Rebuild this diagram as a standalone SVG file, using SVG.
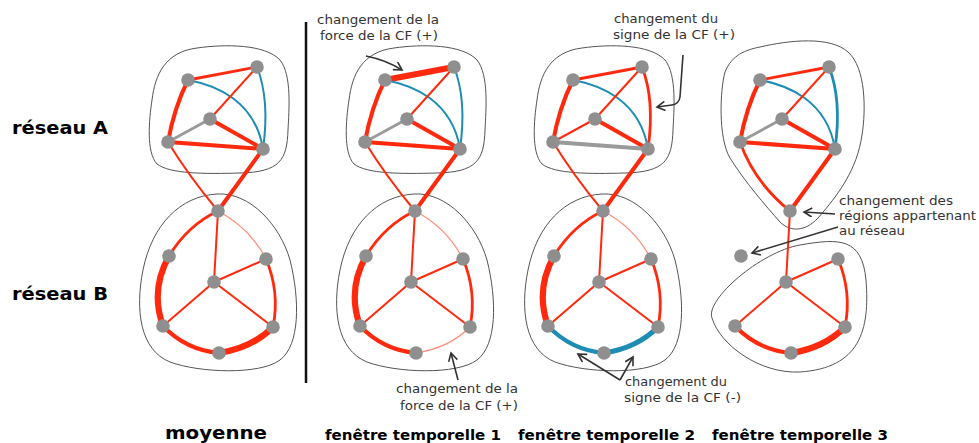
<svg xmlns="http://www.w3.org/2000/svg" width="979" height="443" viewBox="0 0 979 443">
<style>
.e{fill:none;stroke-linecap:round}
.r{stroke:#ff2a0d}
.lr{stroke:#ff8f7c}
.b{stroke:#1d8db3}
.g{stroke:#9a9a9a}
.w1{stroke-width:1.3}
.w2{stroke-width:2}
.w3{stroke-width:2.8}
.w4{stroke-width:4}
.w5{stroke-width:5.2}
.w6{stroke-width:6.2}
.n{fill:#8f8f8f}
.blob{fill:none;stroke:#555;stroke-width:1}
.ann{font-family:"DejaVu Sans",Verdana,sans-serif;font-size:13px;fill:#333}
.lbl{font-family:"DejaVu Sans",Verdana,sans-serif;font-weight:bold;fill:#000}
.arr{fill:none;stroke:#333;stroke-width:1.6;marker-end:url(#ah)}
</style>
<defs>
<marker id="ah" markerUnits="userSpaceOnUse" markerWidth="12" markerHeight="12" refX="9" refY="5" orient="auto">
<path d="M1,0.5 L9,5 L1,9.5" fill="none" stroke="#333" stroke-width="1.6"/>
</marker>
<path id="blobA" d="M197,48 C225,44 265,44 280,60 C292,75 289,110 288,130 C287,160 280,172 240,173 C205,174 170,174 157,164 C146,152 149,120 152,100 C155,75 165,52 197,48 Z"/>
<path id="blobB" d="M217,194 C250,192 280,225 290,260 C300,300 300,345 280,360 C260,375 200,373 170,362 C140,350 135,310 143,270 C152,225 180,196 217,194 Z"/>
</defs>
<rect width="979" height="443" fill="#fff"/>

<g id="outlines">
<use href="#blobA" class="blob"/>
<use href="#blobB" class="blob"/>
<use href="#blobA" class="blob" transform="translate(197,0)"/>
<use href="#blobB" class="blob" transform="translate(197,0)"/>
<use href="#blobA" class="blob" transform="translate(385,0)"/>
<use href="#blobB" class="blob" transform="translate(385,0)"/>
<path class="blob" d="M760,47 C790,40 830,36 848,52 C866,68 866,110 862,135 C857,170 838,195 818,218 C805,232 790,232 780,222 C765,205 745,182 730,158 C718,138 720,90 725,72 C732,55 745,50 760,47 Z"/>
<path class="blob" d="M712,318 C705,300 760,252 800,245 C840,238 862,238 866,280 C870,330 860,368 800,372 C760,374 720,345 712,318 Z"/>
</g>

<line x1="306" y1="22" x2="306" y2="383" stroke="#111" stroke-width="2.5"/>

<g id="connectors">
<g id="edges-moyenne">
<path class="e r w3" d="M188,80 L257,67"/>
<path class="e r w4" d="M188,80 Q174,108 168,142"/>
<path class="e b w2" d="M188,80 C215,85 255,100 263,149"/>
<path class="e b w2" d="M257,67 Q270,100 263,149"/>
<path class="e r w2" d="M257,67 L210,119"/>
<path class="e g w3" d="M210,119 L168,142"/>
<path class="e r w4" d="M210,119 L263,149"/>
<path class="e r w4" d="M168,142 L263,149"/>
<path class="e r w2" d="M168,142 Q188,175 218,211"/>
<path class="e r w4" d="M263,149 L218,211"/>
<path class="e r w3" d="M218,211 Q188,225 169,256"/>
<path class="e lr w1" d="M218,211 Q250,228 266,259"/>
<path class="e r w2" d="M218,211 L214,282"/>
<path class="e r w2" d="M214,282 L266,259"/>
<path class="e r w2" d="M214,282 L163,326"/>
<path class="e r w2" d="M214,282 L273,327"/>
<path class="e r w6" d="M169,256 Q150,290 163,326"/>
<path class="e r w3" d="M266,259 Q280,292 273,327"/>
<path class="e r w4" d="M163,326 Q186,350 219,353"/>
<path class="e r w6" d="M219,353 Q252,348 273,327"/>
</g>
<g id="edges-f1" transform="translate(197,0)">
<path class="e r w6" d="M188,80 L257,67"/>
<path class="e r w4" d="M188,80 Q174,108 168,142"/>
<path class="e b w2" d="M188,80 C215,85 255,100 263,149"/>
<path class="e b w2" d="M257,67 Q270,100 263,149"/>
<path class="e r w2" d="M257,67 L210,119"/>
<path class="e g w3" d="M210,119 L168,142"/>
<path class="e r w4" d="M210,119 L263,149"/>
<path class="e r w4" d="M168,142 L263,149"/>
<path class="e r w2" d="M168,142 Q188,175 218,211"/>
<path class="e r w4" d="M263,149 L218,211"/>
<path class="e r w3" d="M218,211 Q188,225 169,256"/>
<path class="e lr w1" d="M218,211 Q250,228 266,259"/>
<path class="e r w2" d="M218,211 L214,282"/>
<path class="e r w2" d="M214,282 L266,259"/>
<path class="e r w2" d="M214,282 L163,326"/>
<path class="e r w2" d="M214,282 L273,327"/>
<path class="e r w6" d="M169,256 Q150,290 163,326"/>
<path class="e r w3" d="M266,259 Q280,292 273,327"/>
<path class="e r w4" d="M163,326 Q186,350 219,353"/>
<path class="e lr w1" d="M219,353 Q252,348 273,327"/>
</g>
<g id="edges-f2" transform="translate(385,0)">
<path class="e r w3" d="M188,80 L257,67"/>
<path class="e r w4" d="M188,80 Q174,108 168,142"/>
<path class="e b w2" d="M188,80 C215,85 255,100 263,149"/>
<path class="e r w3" d="M257,67 Q270,100 263,149"/>
<path class="e r w2" d="M257,67 L210,119"/>
<path class="e r w2" d="M210,119 L168,142"/>
<path class="e r w4" d="M210,119 L263,149"/>
<path class="e g w4" d="M168,142 L263,149"/>
<path class="e r w2" d="M168,142 Q188,175 218,211"/>
<path class="e r w4" d="M263,149 L218,211"/>
<path class="e r w3" d="M218,211 Q188,225 169,256"/>
<path class="e lr w1" d="M218,211 Q250,228 266,259"/>
<path class="e r w2" d="M218,211 L214,282"/>
<path class="e r w2" d="M214,282 L266,259"/>
<path class="e r w2" d="M214,282 L163,326"/>
<path class="e r w2" d="M214,282 L273,327"/>
<path class="e r w6" d="M169,256 Q150,290 163,326"/>
<path class="e r w3" d="M266,259 Q280,292 273,327"/>
<path class="e b w4" d="M163,326 Q186,350 219,353"/>
<path class="e b w5" d="M219,353 Q252,348 273,327"/>
</g>
<g id="edges-f3" transform="translate(572,0)">
<path class="e r w3" d="M188,80 L257,67"/>
<path class="e r w4" d="M188,80 Q174,108 168,142"/>
<path class="e b w2" d="M188,80 C215,85 255,100 263,149"/>
<path class="e b w3" d="M257,67 Q270,100 263,149"/>
<path class="e r w2" d="M257,67 L210,119"/>
<path class="e g w3" d="M210,119 L168,142"/>
<path class="e r w4" d="M210,119 L263,149"/>
<path class="e r w4" d="M168,142 L263,149"/>
<path class="e r w3" d="M168,142 Q182,182 218,211"/>
<path class="e r w4" d="M263,149 L218,211"/>
<path class="e r w2" d="M218,211 L214,282"/>
<path class="e r w2" d="M214,282 L266,259"/>
<path class="e r w2" d="M214,282 L163,326"/>
<path class="e r w2" d="M214,282 L273,327"/>
<path class="e r w3" d="M266,259 Q280,292 273,327"/>
<path class="e r w4" d="M163,326 Q186,350 219,353"/>
<path class="e r w6" d="M219,353 Q252,348 273,327"/>
</g>
<g id="annotation-arrows">
<path class="arr" d="M366,56 Q386,60 402,70"/>
<path class="arr" d="M683,55 L680,97 Q679,104 672,105 L657,107"/>
<path class="arr" d="M458,380 L451,353"/>
<path class="arr" d="M620,380 L578,354"/>
<path class="arr" d="M620,380 L633,357"/>
<path class="arr" d="M835,214 L804,212"/>
<path class="arr" d="M838,227 L752,253"/>
</g>
</g>

<g id="nodes-moyenne" class="n">
<g id="m-a1"><circle cx="188" cy="80" r="6.8"/></g>
<g id="m-a2"><circle cx="257" cy="67" r="6.8"/></g>
<g id="m-a3"><circle cx="210" cy="119" r="6.8"/></g>
<g id="m-a4"><circle cx="168" cy="142" r="6.8"/></g>
<g id="m-a5"><circle cx="263" cy="149" r="6.8"/></g>
<g id="m-s"><circle cx="218" cy="211" r="6.8"/></g>
<g id="m-b1"><circle cx="169" cy="256" r="6.8"/></g>
<g id="m-b2"><circle cx="266" cy="259" r="6.8"/></g>
<g id="m-b3"><circle cx="214" cy="282" r="6.8"/></g>
<g id="m-b4"><circle cx="163" cy="326" r="6.8"/></g>
<g id="m-b5"><circle cx="273" cy="327" r="6.8"/></g>
<g id="m-b6"><circle cx="219" cy="353" r="6.8"/></g>
</g>
<g id="nodes-f1" class="n" transform="translate(197,0)">
<g id="f1-a1"><circle cx="188" cy="80" r="6.8"/></g>
<g id="f1-a2"><circle cx="257" cy="67" r="6.8"/></g>
<g id="f1-a3"><circle cx="210" cy="119" r="6.8"/></g>
<g id="f1-a4"><circle cx="168" cy="142" r="6.8"/></g>
<g id="f1-a5"><circle cx="263" cy="149" r="6.8"/></g>
<g id="f1-s"><circle cx="218" cy="211" r="6.8"/></g>
<g id="f1-b1"><circle cx="169" cy="256" r="6.8"/></g>
<g id="f1-b2"><circle cx="266" cy="259" r="6.8"/></g>
<g id="f1-b3"><circle cx="214" cy="282" r="6.8"/></g>
<g id="f1-b4"><circle cx="163" cy="326" r="6.8"/></g>
<g id="f1-b5"><circle cx="273" cy="327" r="6.8"/></g>
<g id="f1-b6"><circle cx="219" cy="353" r="6.8"/></g>
</g>
<g id="nodes-f2" class="n" transform="translate(385,0)">
<g id="f2-a1"><circle cx="188" cy="80" r="6.8"/></g>
<g id="f2-a2"><circle cx="257" cy="67" r="6.8"/></g>
<g id="f2-a3"><circle cx="210" cy="119" r="6.8"/></g>
<g id="f2-a4"><circle cx="168" cy="142" r="6.8"/></g>
<g id="f2-a5"><circle cx="263" cy="149" r="6.8"/></g>
<g id="f2-s"><circle cx="218" cy="211" r="6.8"/></g>
<g id="f2-b1"><circle cx="169" cy="256" r="6.8"/></g>
<g id="f2-b2"><circle cx="266" cy="259" r="6.8"/></g>
<g id="f2-b3"><circle cx="214" cy="282" r="6.8"/></g>
<g id="f2-b4"><circle cx="163" cy="326" r="6.8"/></g>
<g id="f2-b5"><circle cx="273" cy="327" r="6.8"/></g>
<g id="f2-b6"><circle cx="219" cy="353" r="6.8"/></g>
</g>
<g id="nodes-f3" class="n" transform="translate(572,0)">
<g id="f3-a1"><circle cx="188" cy="80" r="6.8"/></g>
<g id="f3-a2"><circle cx="257" cy="67" r="6.8"/></g>
<g id="f3-a3"><circle cx="210" cy="119" r="6.8"/></g>
<g id="f3-a4"><circle cx="168" cy="142" r="6.8"/></g>
<g id="f3-a5"><circle cx="263" cy="149" r="6.8"/></g>
<g id="f3-s"><circle cx="218" cy="211" r="6.8"/></g>
<g id="f3-b1"><circle cx="169" cy="256" r="6.8"/></g>
<g id="f3-b2"><circle cx="266" cy="259" r="6.8"/></g>
<g id="f3-b3"><circle cx="214" cy="282" r="6.8"/></g>
<g id="f3-b4"><circle cx="163" cy="326" r="6.8"/></g>
<g id="f3-b5"><circle cx="273" cy="327" r="6.8"/></g>
<g id="f3-b6"><circle cx="219" cy="353" r="6.8"/></g>
</g>

<g id="labels">
<text class="lbl" x="12" y="134" font-size="17" textLength="96" lengthAdjust="spacingAndGlyphs">réseau A</text>
<text class="lbl" x="12" y="300" font-size="17" textLength="96" lengthAdjust="spacingAndGlyphs">réseau B</text>
<text class="lbl" x="165" y="439" font-size="17" textLength="102" lengthAdjust="spacingAndGlyphs">moyenne</text>
<text class="lbl" x="325" y="440" font-size="13.5" textLength="176" lengthAdjust="spacingAndGlyphs">fenêtre temporelle 1</text>
<text class="lbl" x="518" y="440" font-size="13.5" textLength="177" lengthAdjust="spacingAndGlyphs">fenêtre temporelle 2</text>
<text class="lbl" x="712" y="440" font-size="13.5" textLength="176" lengthAdjust="spacingAndGlyphs">fenêtre temporelle 3</text>
</g>
<g id="annotations">
<text class="ann" x="378" y="24" text-anchor="middle" textLength="122" lengthAdjust="spacingAndGlyphs">changement de la</text>
<text class="ann" x="379" y="40" text-anchor="middle" textLength="118" lengthAdjust="spacingAndGlyphs">force de la CF (+)</text>
<text class="ann" x="614" y="23" textLength="104" lengthAdjust="spacingAndGlyphs">changement du</text>
<text class="ann" x="613" y="39" textLength="122" lengthAdjust="spacingAndGlyphs">signe de la CF (+)</text>
<text class="ann" x="457" y="393" text-anchor="middle" textLength="122" lengthAdjust="spacingAndGlyphs">changement de la</text>
<text class="ann" x="459" y="410" text-anchor="middle" textLength="118" lengthAdjust="spacingAndGlyphs">force de la CF (+)</text>
<text class="ann" x="625" y="386" textLength="102" lengthAdjust="spacingAndGlyphs">changement du</text>
<text class="ann" x="624" y="402" textLength="117" lengthAdjust="spacingAndGlyphs">signe de la CF (-)</text>
<text class="ann" x="839" y="205" textLength="114" lengthAdjust="spacingAndGlyphs">changement des</text>
<text class="ann" x="839" y="220" textLength="137" lengthAdjust="spacingAndGlyphs">régions appartenant</text>
<text class="ann" x="839" y="235" textLength="66" lengthAdjust="spacingAndGlyphs">au réseau</text>
</g>
</svg>
